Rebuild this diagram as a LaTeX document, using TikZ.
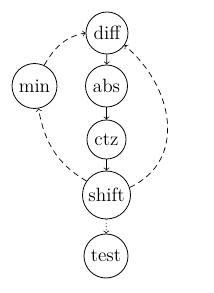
\documentclass[tikz,border=0pt]{standalone}
\usetikzlibrary{arrows}
\begin{document}
\begin{tikzpicture}[x=0.625pt,y=0.625pt,
  nd/.style={draw,circle,inner sep=0pt,line width=0.5pt,font=\large},
  edge/.style={->,>=to,line width=0.45pt},
  dedge/.style={edge,dash pattern=on 3.6pt off 2.6pt},
  dotedge/.style={edge,dash pattern=on 0.5pt off 1.6pt}]
\useasboundingbox (0,0) rectangle (213,293);
\node[nd,minimum size=26.25pt] (diff) at (107,260) {diff};
\node[nd,minimum size=28.1pt] (min) at (34.5,207) {min};
\node[nd,minimum size=26.25pt] (abs) at (106.5,207) {abs};
\node[nd,minimum size=24.4pt] (ctz) at (106.5,153.5) {ctz};
\node[nd,minimum size=30pt] (shift) at (106.5,98) {shift};
\node[nd,minimum size=27.5pt] (test) at (106,37) {test};
\draw[edge] (diff) -- (abs);
\draw[edge] (abs) -- (ctz);
\draw[edge] (ctz) -- (shift);
\draw[dotedge] (shift) -- (test);
\draw[dedge] (min.65) to[out=60,in=190] (diff.west);
\draw[dedge] (shift.145) to[out=150,in=-80] (min.-80);
\draw[dedge] (shift.18) to[out=25,in=-40,looseness=1.15] (diff.-35);
\end{tikzpicture}
\end{document}
